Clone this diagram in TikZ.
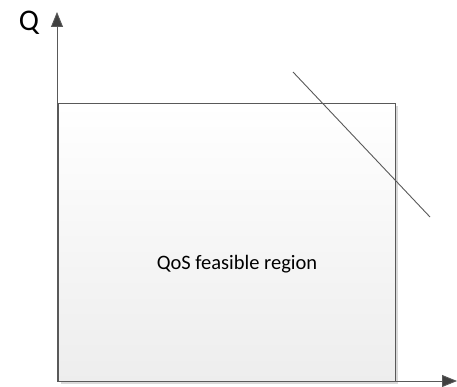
\documentclass[tikz,border=0pt]{standalone}
\usepackage{fontspec}
\setmainfont{Carlito}
\usetikzlibrary{arrows.meta,shadows}
\definecolor{edge}{HTML}{595959}
\definecolor{tipc}{HTML}{404040}
\begin{document}
\begin{tikzpicture}[x=1pt,y=-1pt,
  axis/.style={draw=edge,line width=0.9pt,-{Triangle[length=15pt,width=12pt,fill=tipc]}},
  region/.style={draw=edge,line width=0.9pt,top color=white,bottom color=black!7,
    drop shadow={shadow xshift=3pt,shadow yshift=-3pt,fill=black!15,opacity=1}},
  bound/.style={draw=edge,line width=0.9pt}]
\useasboundingbox (0,0) rectangle (457,387);
% feasible region box
\node[region,minimum width=337pt,minimum height=278pt,inner sep=0pt,anchor=north west] (box) at (58,103) {};
\node[font=\fontsize{20.5}{24}\selectfont] (lbl) at (237,264) {QoS feasible region};
% axes
\coordinate (o) at (57,381);
\coordinate (ytip) at (57,12);
\coordinate (xtip) at (457,381);
\draw[axis] (o) -- (ytip);
\draw[axis] (o) -- (xtip);
\node[font=\fontsize{30}{34}\selectfont] (q) at (29,23) {Q};
% boundary line
\coordinate (l1) at (293,72);
\coordinate (l2) at (430,217);
\draw[bound] (l1) -- (l2);
\end{tikzpicture}
\end{document}
